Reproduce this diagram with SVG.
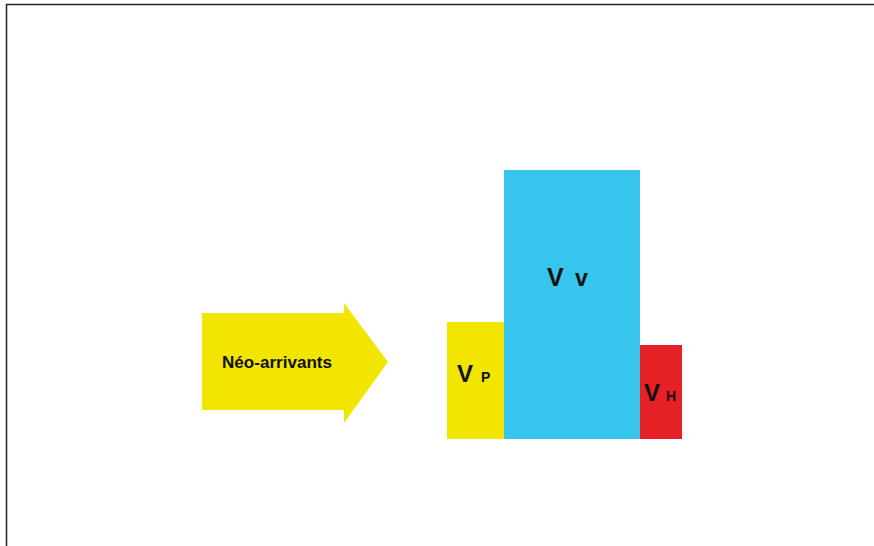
<svg xmlns="http://www.w3.org/2000/svg" width="874" height="546" viewBox="0 0 874 546">
<style>
text{font-family:"Liberation Sans",Arial,sans-serif;font-weight:bold;fill:#111}
.big{font-size:24px}
.sm{font-size:14px}
</style>
<rect x="0" y="0" width="874" height="546" fill="#fff"/>
<rect x="6.5" y="4.5" width="880" height="560" fill="none" stroke="#222" stroke-width="1.5"/>
<g id="arrow">
<polygon points="202,313 344,313 344,303 388,362 344,423 344,410 202,410" fill="#f2e600"/>
<text x="222" y="368" style="font-size:16.5px" textLength="110" lengthAdjust="spacingAndGlyphs">Néo-arrivants</text>
</g>
<g id="vp">
<rect x="447" y="322" width="58" height="117" fill="#f2e600"/>
<text x="457" y="382" class="big">V</text>
<text x="481" y="382" class="sm">P</text>
</g>
<g id="vv">
<rect x="504" y="170" width="136" height="269" fill="#37c5ee"/>
<text x="547" y="286" style="font-size:25px">V</text>
<text x="575" y="286" style="font-size:23px">v</text>
</g>
<g id="vh">
<rect x="640" y="345" width="42" height="94" fill="#e52125"/>
<text x="644" y="401" class="big">V</text>
<text x="666" y="401" class="sm">H</text>
</g>
<g id="connectors"/>
</svg>
